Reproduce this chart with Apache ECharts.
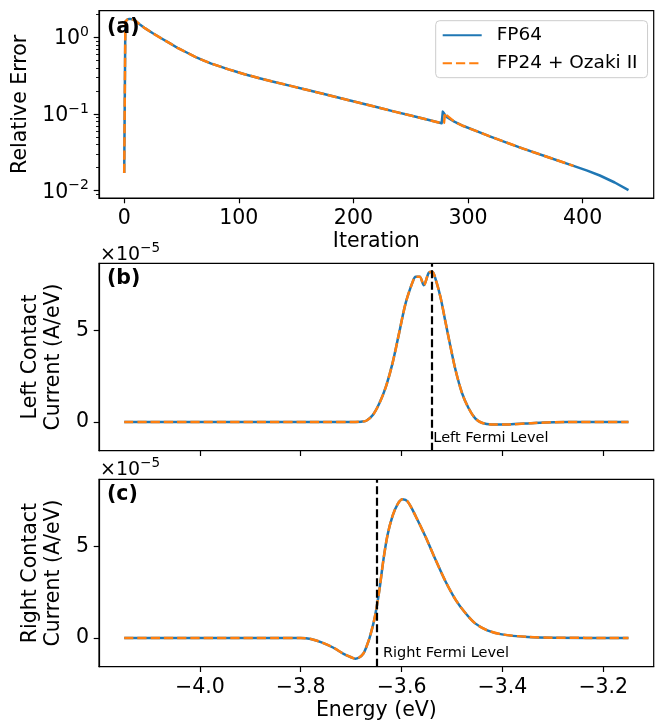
<!DOCTYPE html>
<html>
<head>
<meta charset="utf-8">
<script src="https://cdn.jsdelivr.net/npm/echarts@6/dist/echarts.min.js"></script>
<style>html,body{margin:0;padding:0;background:#fff}#c{width:672px;height:724px}</style>
</head>
<body>
<div id="c"></div>
<script>
// ---------- Panel (a): relative error vs iteration ----------
const iterFP64 = [0,1,2,3,5,8,10,14,18,25,33,40,47,55,62,69,76,84,91,98,105,118,131,147,160,177,190,205,220,235,250,265,277,278,281,288,296,308,319,333,348,370,392,404,415,428,440];
const errFP64  = [0.017,1.62,1.70,1.74,1.76,1.72,1.65,1.47,1.33,1.14,0.966,0.84,0.728,0.635,0.56,0.505,0.458,0.418,0.385,0.358,0.333,0.295,0.264,0.231,0.2065,0.179,0.160,0.1407,0.1239,0.1089,0.0959,0.0844,0.0762,0.108,0.093,0.080,0.070,0.0596,0.0514,0.0429,0.0355,0.0274,0.0211,0.0183,0.0158,0.0128,0.0102];
const iterFP24 = [0,1,2,3,5,8,10,14,18,25,33,40,47,55,62,69,76,84,91,98,105,118,131,147,160,177,190,205,220,235,250,265,277,279,280,282,288,296,308,319,333,348,370,392];
const errFP24  = [0.017,1.62,1.70,1.74,1.76,1.72,1.65,1.47,1.33,1.14,0.966,0.84,0.728,0.635,0.56,0.505,0.458,0.418,0.385,0.358,0.333,0.295,0.264,0.231,0.2065,0.179,0.160,0.1407,0.1239,0.1089,0.0959,0.0844,0.0762,0.077,0.104,0.095,0.080,0.070,0.0596,0.0514,0.0429,0.0355,0.0274,0.0211];
const iterTicks = [0,100,200,300,400];
const logMajor = [0.01,0.1,1];
const logMinor = [0.009,0.02,0.03,0.04,0.05,0.06,0.07,0.08,0.09,0.2,0.3,0.4,0.5,0.6,0.7,0.8,0.9,2];

// ---------- Panel (b): left contact current (x1e-5 A/eV) ----------
const energyL = [-4.15,-3.75,-3.70,-3.680,-3.670,-3.657,-3.644,-3.631,-3.618,-3.605,-3.592,-3.578,-3.572,-3.564,-3.556,-3.546,-3.539,-3.533,-3.523,-3.513,-3.503,-3.493,-3.480,-3.467,-3.454,-3.441,-3.421,-3.388,-3.336,-3.271,-3.15];
const leftCur = [0,0,0,0.02,0.07,0.38,1.02,1.93,3.2,4.84,6.48,7.65,7.93,7.93,7.47,8.15,8.2,7.84,6.84,5.47,4.11,2.84,1.57,0.75,0.2,-0.04,-0.13,-0.13,-0.05,0,0];
const leftFermi = -3.545;

// ---------- Panel (c): right contact current (x1e-5 A/eV) ----------
const energyR = [-4.15,-3.85,-3.80,-3.78,-3.76,-3.735,-3.715,-3.70,-3.692,-3.684,-3.676,-3.670,-3.663,-3.653,-3.644,-3.636,-3.628,-3.618,-3.608,-3.598,-3.588,-3.572,-3.552,-3.533,-3.513,-3.493,-3.473,-3.454,-3.43,-3.401,-3.35,-3.30,-3.15];
const rightCur = [0,0,0,-0.05,-0.22,-0.53,-0.86,-1.05,-1.13,-1.06,-0.86,-0.5,0.05,1.15,2.62,4.27,5.6,6.65,7.3,7.57,7.45,6.65,5.5,4.3,3.1,2.1,1.35,0.8,0.42,0.2,0.06,0.02,0];
const rightFermi = -3.645;

const energyTicks = [-4.0,-3.8,-3.6,-3.4,-3.2];
const curTicks = [0,5];

const names = ['FP64','FP24 + Ozaki II'];
const blue = '#1f77b4', orange = '#ff7f0e';

const zip = (a,b) => a.map((v,i)=>[v,b[i]]);
const FS = 20.5;
const font = 'DejaVu Sans';

function baseX(gi, ticks, min, max, showLabels, fmt) {
  return {
    type:'value', gridIndex:gi, min:min, max:max,
    axisLine:{show:true, onZero:false, lineStyle:{color:'#000', width:1.2}},
    axisTick:{show:true, inside:false, length:5.3, lineStyle:{color:'#000', width:1.2}, customValues:ticks},
    axisLabel:{show:showLabels, customValues:ticks, color:'#000', fontSize:FS, fontFamily:font, margin:10, formatter:fmt},
    splitLine:{show:false}
  };
}
const minusFmt = (v, d) => { const s = Math.abs(v).toFixed(d); return (v < 0 ? '\u2212' : '') + s; };

const lineA = (name, data, color, dashed, extra) => Object.assign({
  type:'line', name:name, data:data, symbol:'none', showSymbol:false, silent:true,
  lineStyle:{color:color, width:2.5, type: dashed ? [9.25,4] : 'solid', cap:'butt', join:'round'},
  itemStyle:{color:color}, animation:false
}, extra||{});

const chart = echarts.init(document.getElementById('c'), null, {renderer:'canvas'});

const fermiMark = (x, label, yv) => ({
  markLine:{silent:true, symbol:['none','none'], label:{show:false},
    lineStyle:{color:'#000', width:2.2, type:[8,3.5]}, data:[{xAxis:x}], animation:false},
  markPoint:{silent:true, symbol:'circle', symbolSize:0,
    data:[{coord:[x+0.008, yv]}],
    label:{show:true, position:'right', distance:0, formatter:label, color:'#000', fontSize:14.5, fontFamily:font},
    animation:false}
});

const supRich = {
  b:{fontSize:FS, fontFamily:font, color:'#000', lineHeight:24, verticalAlign:'bottom'},
  s:{fontSize:14, fontFamily:font, color:'#000', lineHeight:14, verticalAlign:'top'}
};
const offsetRich = {
  b:{fontSize:19, fontFamily:font, fill:'#000', lineHeight:24, verticalAlign:'bottom'},
  s:{fontSize:13.5, fontFamily:font, fill:'#000', lineHeight:13, verticalAlign:'top'}
};

chart.setOption({
  animation:false,
  textStyle:{fontFamily:font},
  grid:[
    {left:99, top:10.7, width:554.7, height:187.3, show:true, borderColor:'#000', borderWidth:1.2, outerBoundsMode:'none', containLabel:false},
    {left:99, top:263.3, width:554.7, height:187.4, show:true, borderColor:'#000', borderWidth:1.2, outerBoundsMode:'none', containLabel:false},
    {left:99, top:479.3, width:554.7, height:187.4, show:true, borderColor:'#000', borderWidth:1.2, outerBoundsMode:'none', containLabel:false}
  ],
  xAxis:[
    Object.assign(baseX(0, iterTicks, -22, 462, true, v=>String(v)),
      {name:'Iteration', nameLocation:'middle', nameGap:33, nameTextStyle:{fontSize:FS, color:'#000', fontFamily:font}}),
    baseX(1, energyTicks, -4.2, -3.1, false, v=>minusFmt(v,1)),
    Object.assign(baseX(2, energyTicks, -4.2, -3.1, true, v=>minusFmt(v,1)),
      {name:'Energy (eV)', nameLocation:'middle', nameGap:33, nameTextStyle:{fontSize:FS, color:'#000', fontFamily:font}})
  ],
  yAxis:[
    {type:'log', gridIndex:0, min:0.00803, max:2.25, logBase:10, position:'left',
      axisLine:{show:true, onZero:false, lineStyle:{color:'#000', width:1.2}},
      axisTick:{show:true, length:5.3, lineStyle:{color:'#000', width:1.2}, customValues:logMajor},
      axisLabel:{show:true, customValues:logMajor, margin:10, formatter:v=>{
        const e = Math.round(Math.log10(v));
        return '{b|10}{s|' + (e<0?'\u2212':'') + Math.abs(e) + '}';
      }, rich:supRich},
      splitLine:{show:false},
      name:'Relative Error', nameLocation:'middle', nameGap:53,
      nameTextStyle:{fontSize:FS, color:'#000', fontFamily:font}},
    {type:'log', gridIndex:0, min:0.00803, max:2.25, logBase:10, position:'left', offset:0,
      axisLine:{show:false, onZero:false},
      axisTick:{show:true, length:3, lineStyle:{color:'#000', width:0.9}, customValues:logMinor},
      axisLabel:{show:false}, splitLine:{show:false}},
    {type:'value', gridIndex:1, min:-1.565, max:8.665, position:'left',
      axisLine:{show:true, onZero:false, lineStyle:{color:'#000', width:1.2}},
      axisTick:{show:true, length:5.3, lineStyle:{color:'#000', width:1.2}, customValues:curTicks},
      axisLabel:{show:true, customValues:curTicks, margin:10, color:'#000', fontSize:FS, fontFamily:font},
      splitLine:{show:false},
      name:'Left Contact\nCurrent (A/eV)', nameLocation:'middle', nameGap:27,
      nameTextStyle:{fontSize:FS, color:'#000', fontFamily:font, lineHeight:23}},
    {type:'value', gridIndex:2, min:-1.565, max:8.665, position:'left',
      axisLine:{show:true, onZero:false, lineStyle:{color:'#000', width:1.2}},
      axisTick:{show:true, length:5.3, lineStyle:{color:'#000', width:1.2}, customValues:curTicks},
      axisLabel:{show:true, customValues:curTicks, margin:10, color:'#000', fontSize:FS, fontFamily:font},
      splitLine:{show:false},
      name:'Right Contact\nCurrent (A/eV)', nameLocation:'middle', nameGap:27,
      nameTextStyle:{fontSize:FS, color:'#000', fontFamily:font, lineHeight:23}}
  ],
  legend:{
    data:names, orient:'vertical', left:435.7, top:20.7,
    itemWidth:39, itemHeight:14, itemGap:9,
    padding:[5,10,5,6], backgroundColor:'rgba(255,255,255,0.8)',
    borderColor:'#cccccc', borderWidth:1, borderRadius:4,
    itemStyle:{opacity:0},
    textStyle:{fontSize:18.5, color:'#000', fontFamily:font, padding:[0,0,0,10]},
    selectedMode:false
  },
  graphic:[
    {type:'text', left:107, top:17, style:{text:'(a)', fontSize:FS, fontWeight:'bold', fontFamily:font, fill:'#000'}, z:100},
    {type:'text', left:107, top:268, style:{text:'(b)', fontSize:FS, fontWeight:'bold', fontFamily:font, fill:'#000'}, z:100},
    {type:'text', left:107, top:484, style:{text:'(c)', fontSize:FS, fontWeight:'bold', fontFamily:font, fill:'#000'}, z:100},
    {type:'text', left:100, top:241, style:{text:'{b|\u00d710}{s|\u22125}', rich:offsetRich}},
    {type:'text', left:100, top:456, style:{text:'{b|\u00d710}{s|\u22125}', rich:offsetRich}}
  ],
  series:[
    lineA(names[0], zip(iterFP64, errFP64), blue, false, {xAxisIndex:0, yAxisIndex:0}),
    lineA(names[1], zip(iterFP24, errFP24), orange, true, {xAxisIndex:0, yAxisIndex:0}),
    lineA(names[0], zip(energyL, leftCur), blue, false, {xAxisIndex:1, yAxisIndex:2, smooth:0.3}),
    lineA(names[1], zip(energyL, leftCur), orange, true, Object.assign({xAxisIndex:1, yAxisIndex:2, smooth:0.3}, fermiMark(leftFermi, 'Left Fermi Level', -0.86))),
    lineA(names[0], zip(energyR, rightCur), blue, false, {xAxisIndex:2, yAxisIndex:3, smooth:0.3}),
    lineA(names[1], zip(energyR, rightCur), orange, true, Object.assign({xAxisIndex:2, yAxisIndex:3, smooth:0.3}, fermiMark(rightFermi, 'Right Fermi Level', -0.82)))
  ]
});
</script>
</body>
</html>
